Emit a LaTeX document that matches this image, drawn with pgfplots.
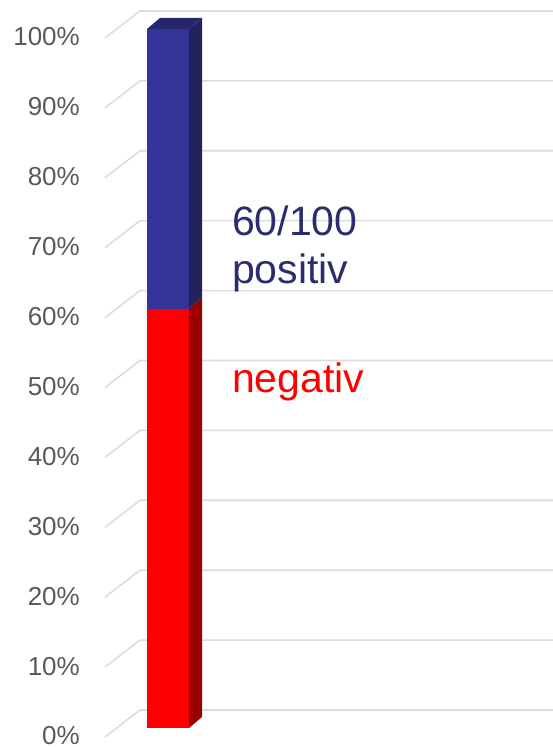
\documentclass[border=0pt]{standalone}
\usepackage{fontspec}
\setmainfont{Liberation Sans}
\usepackage{pgfplots}
\pgfplotsset{compat=1.18}
\definecolor{gridc}{HTML}{DCDCDC}
\definecolor{tickc}{HTML}{595959}
\definecolor{bluef}{HTML}{333399}
\definecolor{blues}{HTML}{22225F}
\definecolor{bluet}{HTML}{27276E}
\definecolor{redf}{HTML}{FF0000}
\definecolor{reds}{HTML}{9A0000}
\definecolor{txtblue}{HTML}{2B2B70}
\begin{document}
\begin{tikzpicture}
\begin{axis}[
  scale only axis, width=553pt, height=747pt,
  xmin=0, xmax=553, ymin=-2.718, ymax=104.149,
  clip=false,
  axis line style={draw=none}, tick style={draw=none},
  xtick=\empty,
  ytick={0,10,...,100},
  /pgf/number format/assume math mode=true,
  yticklabel={\pgfmathprintnumber{\tick}\%},
  yticklabel style={anchor=east, inner sep=0pt, xshift=80pt, yshift=-8pt,
    font=\fontsize{26}{30}\selectfont, text=tickc},
]
\coordinate (bl) at (axis cs:0,-2.718);
\coordinate (tr) at (axis cs:553,104.149);
% back wall grid lines
\pgfplotsinvokeforeach{0,10,20,30,40,50,60,70,80,90,100}{
  \draw[gridc, line width=1.6pt] (axis cs:105,#1-1.288) -- (axis cs:140,#1+2.575) -- (axis cs:553,#1+2.575);
}
% negativ: 0 -- 60 ; positiv: 60 -- 100
% front faces
\addplot[fill=redf, draw=none] coordinates {(147,0) (189,0) (189,60) (147,60)} -- cycle;
\addplot[fill=bluef, draw=none] coordinates {(147,60) (189,60) (189,100) (147,100)} -- cycle;
% side faces
\addplot[fill=reds, draw=none] coordinates {(189,0) (202,1.574) (202,61.574) (189,60)} -- cycle;
\addplot[fill=blues, draw=none] coordinates {(189,60) (202,61.574) (202,101.574) (189,100)} -- cycle;
% top face
\addplot[fill=bluet, draw=none] coordinates {(147,100) (189,100) (202,101.574) (160,101.574)} -- cycle;
% labels
\node[anchor=base west, inner sep=0pt, text=txtblue, font=\fontsize{41}{48}\selectfont] at (axis cs:232,70.43) {60/100};
\node[anchor=base west, inner sep=0pt, text=txtblue, font=\fontsize{41}{48}\selectfont] at (axis cs:232,63.57) {positiv};
\node[anchor=base west, inner sep=0pt, text=redf, font=\fontsize{41}{48}\selectfont] at (axis cs:232,48.0) {negativ};
\end{axis}
\pgfresetboundingbox
\path[use as bounding box] (bl) rectangle (tr);
\end{tikzpicture}
\end{document}
